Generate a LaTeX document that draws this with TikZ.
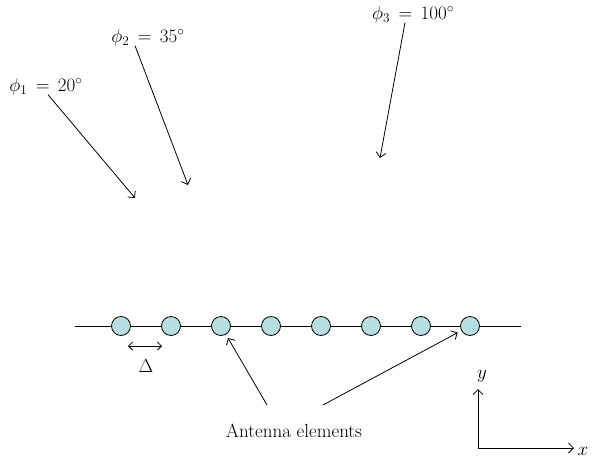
\RequirePackage{fix-cm}
\documentclass[tikz,border=0pt]{standalone}
\usepackage{tikz}
\usetikzlibrary{arrows.meta,positioning,calc}
\definecolor{elemfill}{RGB}{183,222,224}
\tikzset{
  elem/.style={circle,draw,fill=elemfill,line width=0.8pt,minimum size=19pt,inner sep=0pt},
  wave/.style={-{Straight Barb[length=5pt,width=10pt]},line width=0.8pt},
  dbl/.style={{Straight Barb[length=4pt,width=8pt]}-{Straight Barb[length=4pt,width=8pt]},line width=0.8pt},
  lab/.style={inner sep=1pt,font=\fontsize{19}{23}\selectfont}
}
\begin{document}
\begin{tikzpicture}[x=1pt,y=-1pt]
\useasboundingbox (0,0) rectangle (592,464);
% incoming directions
\node[lab] (phi1) at (46,87) {$\phi_1 \,=\, 20^\circ$};
\node[lab] (phi2) at (148,38) {$\phi_2 \,=\, 35^\circ$};
\node[lab] (phi3) at (413,15) {$\phi_3 \,=\, 100^\circ$};
\coordinate (w1) at (135,198);
\coordinate (w2) at (188,185);
\coordinate (w3) at (380,158);
\draw[wave] ($(phi1.south)+(2,-2)$) -- (w1);
\draw[wave] ($(phi2.south)+(-13,-2)$) -- (w2);
\draw[wave] ($(phi3.south)+(-8,-2)$) -- (w3);
% array
\coordinate (lineL) at (75,326);
\coordinate (lineR) at (521,326);
\draw[line width=0.8pt] (lineL) -- (lineR);
\node[elem] (e1) at (121,326) {};
\node[elem] (e2) at (171,326) {};
\node[elem] (e3) at (221,326) {};
\node[elem] (e4) at (271,326) {};
\node[elem] (e5) at (321,326) {};
\node[elem] (e6) at (371,326) {};
\node[elem] (e7) at (421,326) {};
\node[elem] (e8) at (470,326) {};
\draw[dbl] ([shift={(7,20)}]e1.center) -- ([shift={(-9,20)}]e2.center);
\node[lab] (delta) at (146,366) {$\Delta$};
% label
\node[lab] (ant) at (294,431) {Antenna elements};
\coordinate (a1) at (267,405);
\coordinate (a2) at (323,405);
\draw[wave,shorten >=4pt] (a1) -- (e3);
\draw[wave,shorten >=4pt] (a2) -- (e8);
% axes
\coordinate (org) at (478,448);
\coordinate (yax) at (478,389);
\coordinate (xax) at (574,448);
\draw[wave] (org) -- (yax);
\draw[wave] (org) -- (xax);
\node[lab] (ylab) at (482,376) {$y$};
\node[lab] (xlab) at (583,451) {$x$};
\end{tikzpicture}
\end{document}
